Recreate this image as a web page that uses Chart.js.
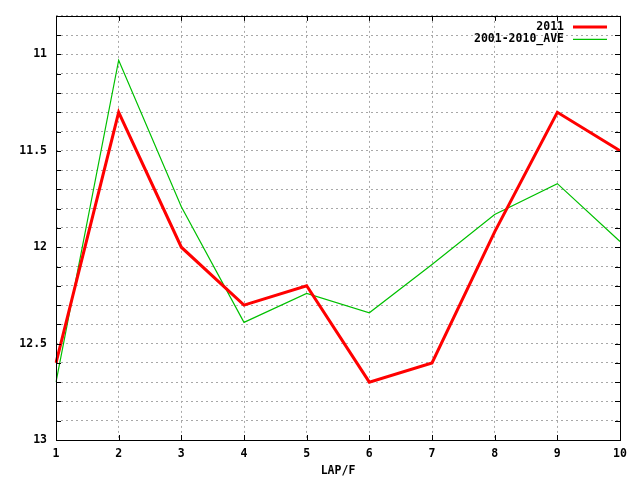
<!DOCTYPE html>
<html>
<head>
<meta charset="utf-8">
<script src="https://cdn.jsdelivr.net/npm/chart.js@4/dist/chart.umd.min.js"></script>
<style>
  body { margin: 0; background: #fff; }
  #wrap { width: 640px; height: 480px; }
</style>
</head>
<body>
<div id="wrap"><canvas id="lapChart" width="640" height="480"></canvas></div>
<script>
// data
const laps = ['1', '2', '3', '4', '5', '6', '7', '8', '9', '10'];
const lap2011 = [12.6, 11.3, 12.0, 12.3, 12.2, 12.7, 12.6, 11.92, 11.3, 11.5];
const lapAve = [12.7, 11.03, 11.79, 12.39, 12.24, 12.34, 12.09, 11.83, 11.67, 11.97];
const seriesNames = ['2011', '2001-2010_AVE'];
const yMin = 10.8;
const yMax = 13;

const FONT = 'bold 11.5px "DejaVu Sans Mono", monospace';

// gnuplot-like frame, inward ticks and legend inside the plot
const framePlugin = {
    id: 'frame',
    afterDraw(chart) {
        const ctx = chart.ctx;
        const a = chart.chartArea;
        const xs = chart.scales.x;
        const ys = chart.scales.y;
        ctx.save();
        ctx.strokeStyle = '#000';
        ctx.lineWidth = 1;
        ctx.setLineDash([]);
        ctx.beginPath();
        ys.ticks.forEach(function(t) {
            const y = Math.round(ys.getPixelForValue(t.value)) + 0.5;
            ctx.moveTo(a.left, y); ctx.lineTo(a.left + 5, y);
            ctx.moveTo(a.right, y); ctx.lineTo(a.right - 5, y);
        });
        xs.ticks.forEach(function(t, i) {
            const x = Math.round(xs.getPixelForTick(i)) + 0.5;
            ctx.moveTo(x, a.top); ctx.lineTo(x, a.top + 5);
            ctx.moveTo(x, a.bottom); ctx.lineTo(x, a.bottom - 5);
        });
        ctx.stroke();
        ctx.strokeRect(Math.round(a.left) + 0.5, Math.round(a.top) + 0.5,
                       Math.round(a.right - a.left), Math.round(a.bottom - a.top));

        // legend
        ctx.font = FONT;
        ctx.textAlign = 'right';
        ctx.textBaseline = 'middle';
        chart.data.datasets.forEach(function(ds, i) {
            const y = a.top + 11 + i * 12.5;
            ctx.fillStyle = '#000';
            ctx.fillText(ds.label, a.right - 56, y);
            ctx.strokeStyle = ds.borderColor;
            ctx.lineWidth = ds.borderWidth;
            ctx.beginPath();
            ctx.moveTo(a.right - 47, y);
            ctx.lineTo(a.right - 13, y);
            ctx.stroke();
        });
        ctx.restore();
    }
};

const tickFont = { family: '"DejaVu Sans Mono", monospace', size: 11.5, weight: 'bold' };

const chartCtx = document.getElementById('lapChart').getContext('2d');
const lapChart = new Chart(chartCtx, {
    type: 'line',
    data: {
        labels: laps,
        datasets: [{
            label: seriesNames[0],
            data: lap2011,
            borderColor: '#ff0000',
            borderWidth: 3,
            pointRadius: 0,
            tension: 0
        }, {
            label: seriesNames[1],
            data: lapAve,
            borderColor: '#00c000',
            borderWidth: 1.2,
            pointRadius: 0,
            tension: 0
        }]
    },
    options: {
        responsive: false,
        animation: false,
        devicePixelRatio: 1,
        layout: { padding: { top: 13, right: 20, left: 0, bottom: 0 } },
        plugins: {
            legend: { display: false },
            tooltip: { enabled: false }
        },
        scales: {
            x: {
                offset: false,
                grid: { color: '#a8a8a8', drawTicks: false },
                border: { display: false, dash: [2, 3] },
                ticks: {
                    color: '#000',
                    font: tickFont,
                    padding: 7,
                    maxRotation: 0
                },
                title: {
                    display: true,
                    text: 'LAP/F',
                    color: '#000',
                    font: tickFont,
                    padding: { top: 0, bottom: 2 }
                },
                afterFit: function(s) { s.height = 40; }
            },
            y: {
                reverse: true,
                min: yMin,
                max: yMax,
                grid: { color: '#a8a8a8', drawTicks: false },
                border: { display: false, dash: [2, 3] },
                ticks: {
                    stepSize: 0.1,
                    autoSkip: false,
                    color: '#000',
                    padding: 9,
                    font: tickFont,
                    callback: function(v) {
                        const r = Math.round(v * 10) / 10;
                        return Math.abs(r * 2 - Math.round(r * 2)) < 1e-6 && r > yMin + 0.05 ? String(r) : '';
                    }
                },
                afterFit: function(s) { s.width = 56; }
            }
        }
    },
    plugins: [framePlugin]
});
</script>
</body>
</html>
